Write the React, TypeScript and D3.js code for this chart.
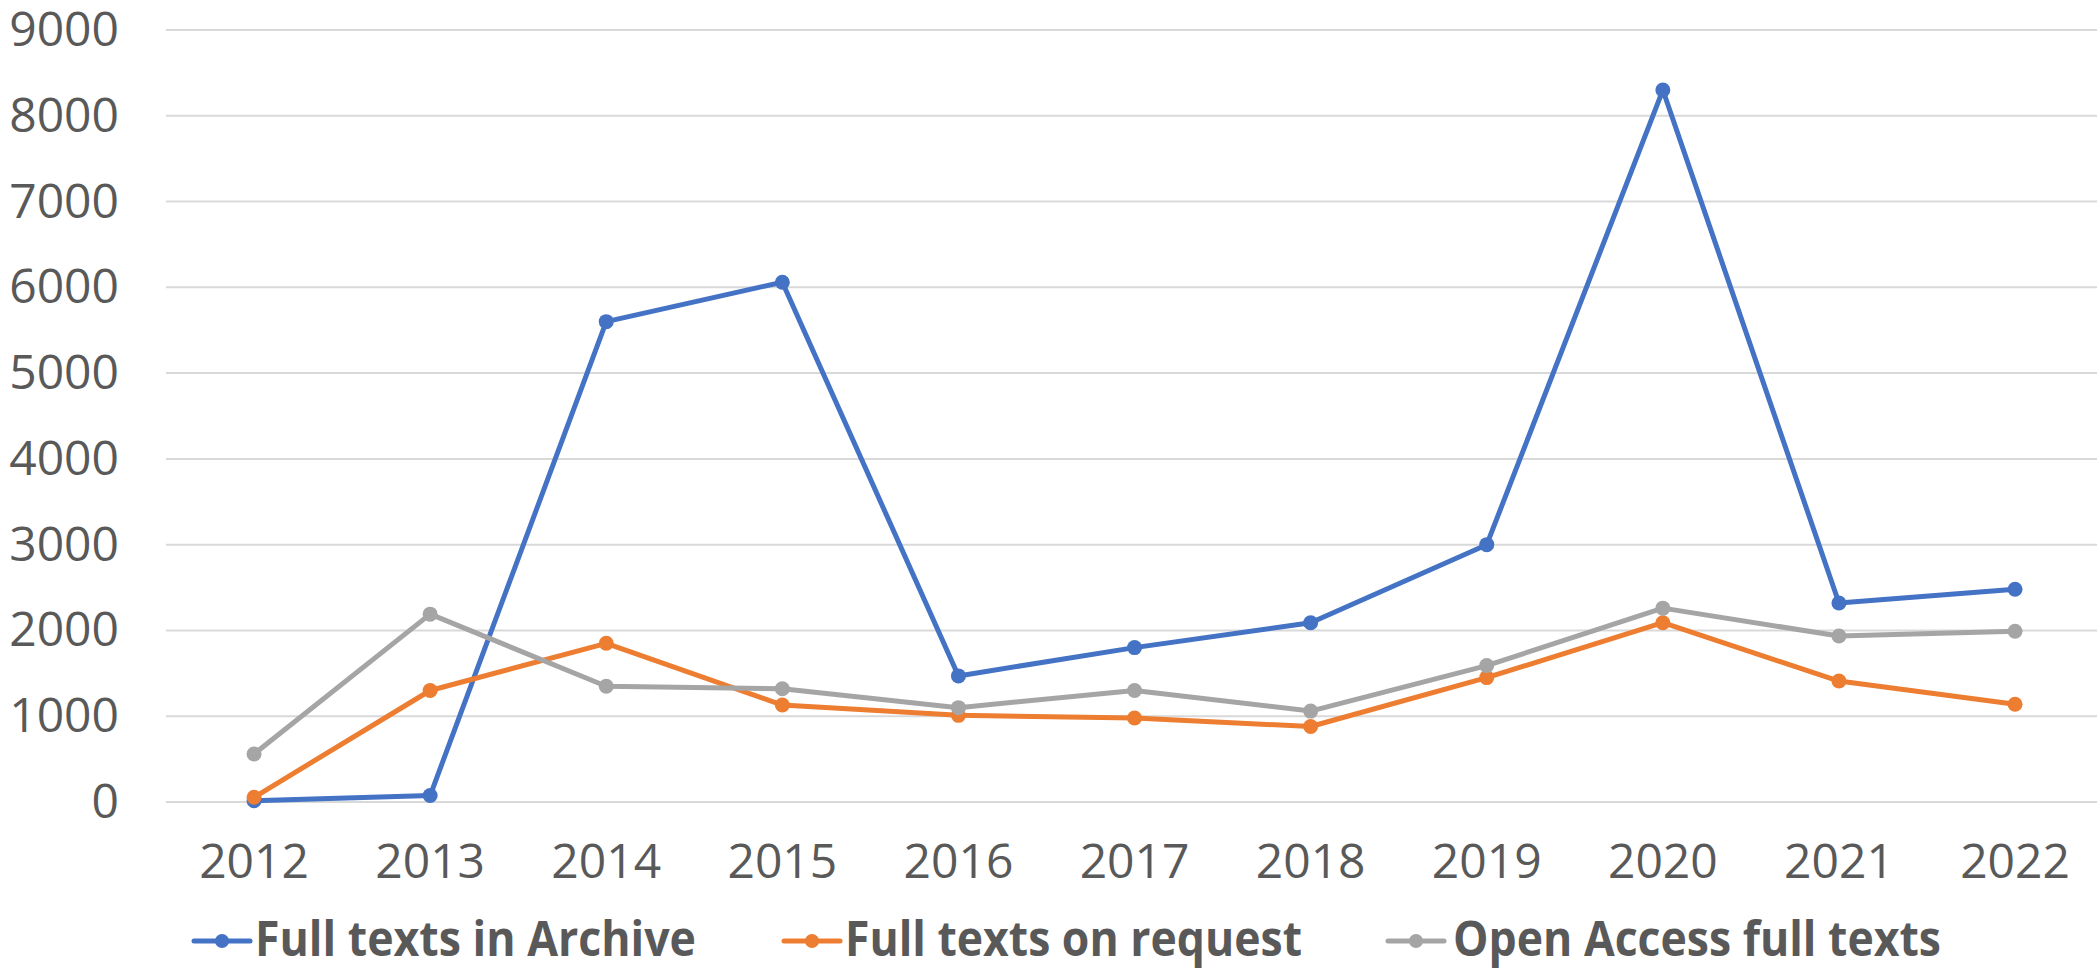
import * as d3 from 'd3'

const years = ['2012', '2013', '2014', '2015', '2016', '2017', '2018', '2019', '2020', '2021', '2022']
const archive = [15, 75, 5600, 6060, 1470, 1800, 2090, 3000, 8300, 2320, 2480]
const onRequest = [55, 1300, 1850, 1130, 1010, 980, 880, 1450, 2090, 1410, 1140]
const openAccess = [560, 2190, 1350, 1320, 1100, 1300, 1060, 1590, 2260, 1935, 1990]
const yTicks = [0, 1000, 2000, 3000, 4000, 5000, 6000, 7000, 8000, 9000]

const seriesNames = ['Full texts in Archive', 'Full texts on request', 'Open Access full texts']
const seriesColors = ['#4472C4', '#ED7D31', '#A5A5A5']
const seriesData = [archive, onRequest, openAccess]

const W = 2099
const H = 968
const FONT = '"Open Sans", "Noto Sans", sans-serif'

export default function App() {
  const x = d3.scaleBand<string>().domain(years).range([166, 166 + 11 * 176.1])
  const cx = (yr: string) => (x(yr) ?? 0) + x.bandwidth() / 2
  const y = d3.scaleLinear().domain([0, 9000]).range([802, 30])

  const line = d3.line<number>()
    .x((_, i) => cx(years[i]))
    .y((d) => y(d))

  // legend placement
  const legend = [
    { x0: 194, tx: 255, tw: 441 },
    { x0: 784, tx: 845, tw: 457 },
    { x0: 1388, tx: 1453, tw: 488 },
  ]

  return (
    <svg width={W} height={H} style={{ position: 'absolute', left: 0, top: 0, background: '#fff' }} fontFamily={FONT}>
      {/* gridlines */}
      {yTicks.map((t) => (
        <line key={t} x1={166} x2={2097} y1={y(t)} y2={y(t)} stroke="#D9D9D9" strokeWidth={2} />
      ))}
      {/* y labels */}
      {yTicks.map((t) => (
        <text key={'l' + t} x={119} y={y(t) + 16} textAnchor="end" fontSize={48} fill="#595959">{t}</text>
      ))}
      {/* x labels */}
      {years.map((yr) => (
        <text key={yr} x={cx(yr)} y={878} textAnchor="middle" fontSize={48} fill="#595959">{yr}</text>
      ))}
      {/* series */}
      {seriesData.map((s, si) => (
        <g key={si}>
          <path d={line(s) ?? ''} fill="none" stroke={seriesColors[si]} strokeWidth={5} strokeLinejoin="round" strokeLinecap="round" />
          {s.map((v, i) => (
            <circle key={i} cx={cx(years[i])} cy={y(v)} r={7.5} fill={seriesColors[si]} />
          ))}
        </g>
      ))}
      {/* legend */}
      {legend.map((l, i) => (
        <g key={'lg' + i}>
          <line x1={l.x0} x2={l.x0 + 56} y1={941} y2={941} stroke={seriesColors[i]} strokeWidth={5} strokeLinecap="round" />
          <circle cx={l.x0 + 28} cy={941} r={7} fill={seriesColors[i]} />
          <text x={l.tx} y={956} fontSize={48} fontWeight="bold" fill="#595959"
            textLength={l.tw} lengthAdjust="spacingAndGlyphs">{seriesNames[i]}</text>
        </g>
      ))}
    </svg>
  )
}
